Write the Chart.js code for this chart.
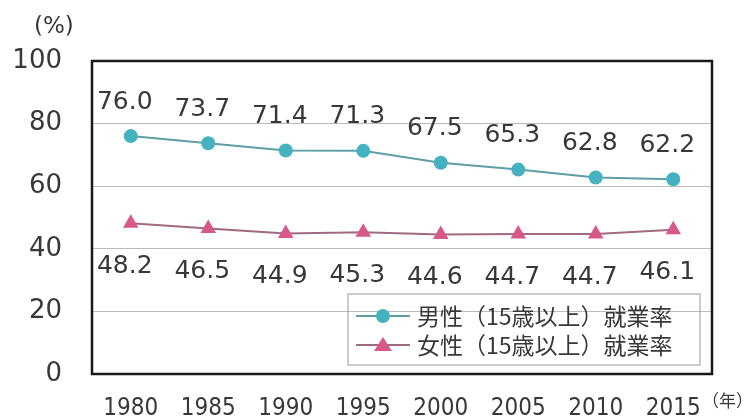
<!DOCTYPE html>
<html>
<head>
<meta charset="utf-8">
<script src="https://cdn.jsdelivr.net/npm/chart.js@4"></script>
<style>
  body { margin: 0; background: #fff; }
</style>
</head>
<body>
<canvas id="chart" width="756" height="420"></canvas>
<script>
const years = ['1980', '1985', '1990', '1995', '2000', '2005', '2010', '2015'];
const maleRate = [76.0, 73.7, 71.4, 71.3, 67.5, 65.3, 62.8, 62.2];
const femaleRate = [48.2, 46.5, 44.9, 45.3, 44.6, 44.7, 44.7, 46.1];
const yTicks = [0, 20, 40, 60, 80, 100];
const seriesNames = ['男性（15歳以上）就業率', '女性（15歳以上）就業率'];

const textColor = '#383838';
const numFont = '"DejaVu Sans", sans-serif';
const narrowFont = '"DejaVu Sans Condensed", "DejaVu Sans", sans-serif';
const jpFont = '"Noto Sans CJK JP", sans-serif';

// frame, value labels, unit labels and the legend box
const decorations = {
    id: 'decorations',
    afterDatasetsDraw(chart) {
        const ctx = chart.ctx;
        const a = chart.chartArea;
        ctx.save();

        ctx.strokeStyle = '#1a1a1a';
        ctx.lineWidth = 2.5;
        ctx.strokeRect(a.left, a.top, a.right - a.left, a.bottom - a.top);

        ctx.fillStyle = textColor;
        ctx.font = '25px ' + numFont;
        ctx.textAlign = 'center';
        ctx.textBaseline = 'middle';
        chart.data.datasets.forEach((ds, i) => {
            const meta = chart.getDatasetMeta(i);
            meta.data.forEach((pt, j) => {
                const dy = i === 0 ? -34 : 43;
                ctx.fillText(ds.data[j].toFixed(1), pt.x - 6, pt.y + dy);
            });
        });

        ctx.font = '23px ' + numFont;
        ctx.textAlign = 'left';
        ctx.fillText('(%)', 34, 27);
        ctx.font = '17px ' + jpFont;
        ctx.fillText('（年）', 702, 401);

        // legend
        const lx = 348, ly = 294, lw = 352, lh = 71;
        ctx.strokeStyle = '#999';
        ctx.lineWidth = 1;
        ctx.strokeRect(lx, ly, lw, lh);
        chart.data.datasets.forEach((ds, i) => {
            const y = 316 + i * 29;
            ctx.strokeStyle = ds.borderColor;
            ctx.lineWidth = 2;
            ctx.beginPath();
            ctx.moveTo(356, y);
            ctx.lineTo(410, y);
            ctx.stroke();
            ctx.fillStyle = ds.pointBackgroundColor;
            ctx.beginPath();
            if (ds.pointStyle === 'triangle') {
                ctx.moveTo(383, y - 8);
                ctx.lineTo(392, y + 6);
                ctx.lineTo(374, y + 6);
                ctx.closePath();
            } else {
                ctx.arc(383, y, 7, 0, Math.PI * 2);
            }
            ctx.fill();
            ctx.fillStyle = textColor;
            ctx.font = '23px ' + jpFont;
            ctx.textAlign = 'left';
            ctx.textBaseline = 'middle';
            ctx.fillText(ds.label, 417, y);
        });
        ctx.restore();
    }
};

new Chart(document.getElementById('chart'), {
    type: 'line',
    data: {
        labels: years,
        datasets: [
            {
                label: seriesNames[0],
                data: maleRate,
                borderColor: '#5e9ea4',
                borderWidth: 2,
                pointStyle: 'circle',
                pointRadius: 7,
                pointBackgroundColor: '#45b2c2',
                pointBorderWidth: 0
            },
            {
                label: seriesNames[1],
                data: femaleRate,
                borderColor: '#a06a80',
                borderWidth: 2,
                pointStyle: 'triangle',
                pointRadius: 9,
                pointBackgroundColor: '#d9588c',
                pointBorderWidth: 0
            }
        ]
    },
    options: {
        responsive: false,
        animation: false,
        layout: { padding: { top: 61, right: 44, left: 0, bottom: 0 } },
        plugins: {
            legend: { display: false },
            tooltip: { enabled: false }
        },
        scales: {
            x: {
                offset: true,
                grid: { display: false, drawTicks: false },
                border: { display: false },
                ticks: {
                    color: textColor,
                    font: { family: narrowFont, size: 24 },
                    padding: 20,
                    maxRotation: 0
                },
                afterFit: s => { s.height = 46; }
            },
            y: {
                min: 0,
                max: 100,
                afterBuildTicks: s => { s.ticks = yTicks.map(v => ({ value: v })); },
                grid: { color: '#bbbbbb', lineWidth: 1, drawTicks: false },
                border: { display: false },
                ticks: {
                    color: textColor,
                    font: { family: numFont, size: 26 },
                    padding: 30
                },
                afterFit: s => { s.width = 92; }
            }
        }
    },
    plugins: [decorations]
});
</script>
</body>
</html>
